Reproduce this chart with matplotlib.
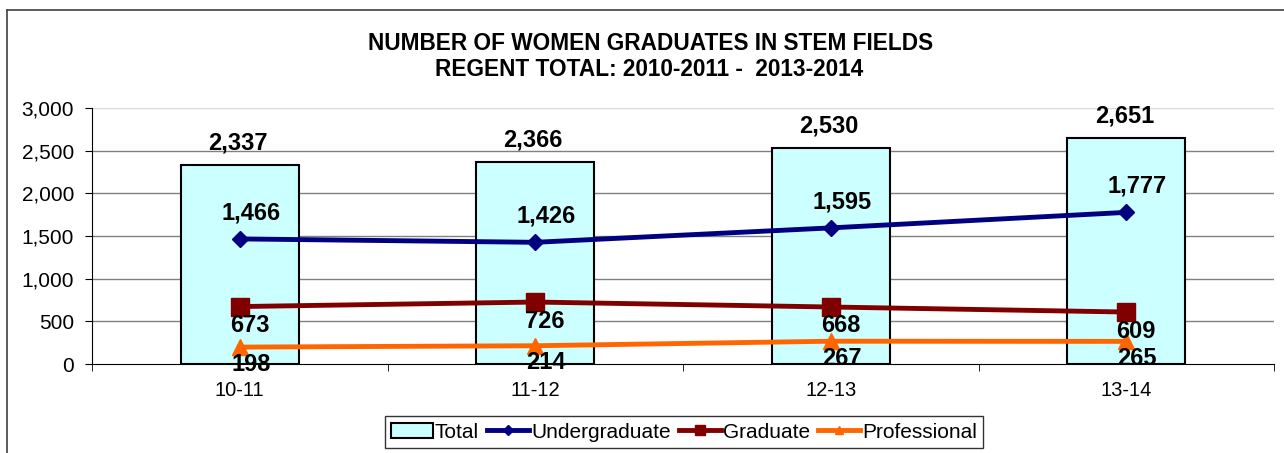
import numpy as np
import matplotlib
matplotlib.use('Agg')
import matplotlib.pyplot as plt
from matplotlib.lines import Line2D
from matplotlib.patches import Patch
from matplotlib.ticker import FuncFormatter

plt.rcParams['font.family'] = ['Liberation Sans', 'DejaVu Sans']

# data
years = ['10-11', '11-12', '12-13', '13-14']
total = [2337, 2366, 2530, 2651]
undergrad = [1466, 1426, 1595, 1777]
graduate = [673, 726, 668, 609]
professional = [198, 214, 267, 265]

fig = plt.figure(figsize=(12.84, 4.53), dpi=100)
ax = fig.add_axes([92 / 1284, 1 - 364 / 453, (1274 - 92) / 1284, (364 - 108) / 453])

x = np.arange(len(years))
ax.bar(x, total, width=0.4, color='#CCFFFF', edgecolor='black', linewidth=1.5, zorder=2)
ax.plot(x, undergrad, color='#000080', lw=3.5, marker='D', ms=8.5, zorder=3)
ax.plot(x, graduate, color='#800000', lw=3.5, marker='s', ms=13, zorder=3)
ax.plot(x, professional, color='#FF6600', lw=3.5, marker='^', ms=12, zorder=3)

lab = dict(fontsize=17, fontweight='bold', ha='center', va='center',
           textcoords='offset pixels', zorder=5)
for i in range(len(years)):
    ax.annotate(f'{total[i]:,}', (x[i], total[i]), xytext=(-2, 22), **lab)
    ax.annotate(f'{undergrad[i]:,}', (x[i], undergrad[i]), xytext=(11, 26), **lab)
    ax.annotate(f'{graduate[i]:,}', (x[i], graduate[i]), xytext=(10, -19), **lab)
    ax.annotate(f'{professional[i]:,}', (x[i], professional[i]), xytext=(11, -17), **lab)

ax.set_xlim(-0.5, len(years) - 0.5)
ax.set_ylim(0, 3000)
ax.set_yticks(np.arange(0, 3001, 500))
ax.yaxis.set_major_formatter(FuncFormatter(lambda v, p: f'{int(v):,}'))
ax.set_xticks(x)
ax.set_xticklabels(years)
ax.set_xticks(np.arange(-0.5, len(years)), minor=True)
ax.tick_params(axis='x', which='major', length=0, pad=12, labelsize=14.5)
ax.tick_params(axis='x', which='minor', length=5, direction='out')
ax.tick_params(axis='y', length=5, direction='out', pad=8, labelsize=15)

for v in range(500, 3001, 500):
    ax.axhline(v, color='#d9d9d9' if v == 3000 else '#808080', lw=1, zorder=1)
ax.spines['top'].set_visible(False)
ax.spines['right'].set_visible(False)

fig.text(651 / 1284, 1 - 44 / 453, 'NUMBER OF WOMEN GRADUATES IN STEM FIELDS',
         ha='center', va='center', fontsize=16.3, fontweight='bold')
fig.text(649 / 1284, 1 - 70 / 453, 'REGENT TOTAL: 2010-2011 -  2013-2014',
         ha='center', va='center', fontsize=16.3, fontweight='bold')

# outer chart border (left and top visible)
fig.add_artist(Line2D([7 / 1284, 7 / 1284], [0, 1 - 10 / 453], color='#404040', lw=1.2,
                      transform=fig.transFigure))
fig.add_artist(Line2D([7 / 1284, 1], [1 - 10 / 453, 1 - 10 / 453], color='#404040', lw=1.2,
                      transform=fig.transFigure))

handles = [Patch(facecolor='#CCFFFF', edgecolor='black', linewidth=1.5),
           Line2D([], [], color='#000080', lw=3.5, marker='D', ms=5),
           Line2D([], [], color='#800000', lw=3.5, marker='s', ms=7),
           Line2D([], [], color='#FF6600', lw=3.5, marker='^', ms=6)]
leg = fig.legend(handles, ['Total', 'Undergraduate', 'Graduate', 'Professional'],
                 loc='center', bbox_to_anchor=(684 / 1284, 1 - 432 / 453), ncol=4,
                 fontsize=15, frameon=True, fancybox=False, edgecolor='black',
                 handlelength=2.0, handletextpad=0.1, columnspacing=0.4,
                 borderpad=0.3, borderaxespad=0)
leg.get_frame().set_linewidth(1)

fig.savefig('out.png', dpi=100)
